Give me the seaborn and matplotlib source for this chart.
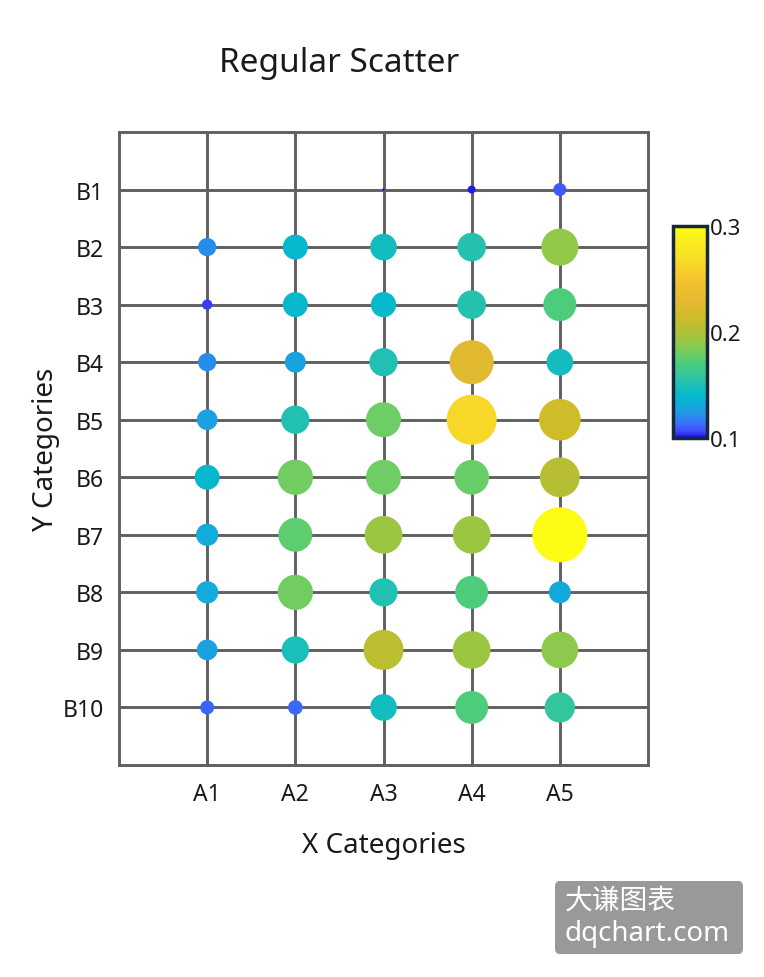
import numpy as np
import pandas as pd
import seaborn as sns
import matplotlib.pyplot as plt
from matplotlib.colors import LinearSegmentedColormap, Normalize
from matplotlib.cm import ScalarMappable
from matplotlib.patches import FancyBboxPatch

# categories
x_cats = ["A1", "A2", "A3", "A4", "A5"]
y_cats = ["B1", "B2", "B3", "B4", "B5", "B6", "B7", "B8", "B9", "B10"]

# values per row (B1..B10), columns A1..A5
row_B1 = [0.098, 0.098, 0.0984, 0.1023, 0.1093]
row_B2 = [0.1204, 0.1397, 0.1456, 0.1530, 0.1894]
row_B3 = [0.1051, 0.1397, 0.1407, 0.1530, 0.1707]
row_B4 = [0.1204, 0.1274, 0.1515, 0.2273, 0.1456]
row_B5 = [0.1266, 0.1515, 0.1798, 0.2650, 0.2141]
row_B6 = [0.1397, 0.1812, 0.1798, 0.1784, 0.2033]
row_B7 = [0.1312, 0.1752, 0.1929, 0.1929, 0.3000]
row_B8 = [0.1312, 0.1812, 0.1515, 0.1707, 0.1303]
row_B9 = [0.1266, 0.1478, 0.2048, 0.1929, 0.1879]
row_B10 = [0.1111, 0.1124, 0.1456, 0.1707, 0.1593]

rows = [row_B1, row_B2, row_B3, row_B4, row_B5,
        row_B6, row_B7, row_B8, row_B9, row_B10]

# long-form table for seaborn
df = pd.DataFrame(
    [(xc, yc, v) for yc, r in zip(y_cats, rows) for xc, v in zip(x_cats, r)],
    columns=["X", "Y", "value"],
)

# colour map
stops = [
    (0.00, (15, 15, 225)), (0.03, (65, 75, 250)), (0.07, (55, 115, 250)),
    (0.10, (40, 140, 235)), (0.15, (20, 170, 220)), (0.20, (5, 185, 205)),
    (0.27, (40, 195, 170)), (0.35, (75, 205, 125)), (0.40, (110, 205, 100)),
    (0.45, (150, 200, 70)), (0.52, (185, 190, 50)), (0.58, (210, 188, 40)),
    (0.65, (230, 185, 50)), (0.75, (245, 195, 45)), (0.85, (247, 222, 38)),
    (1.00, (252, 252, 20)),
]
cmap = LinearSegmentedColormap.from_list(
    "bubble", [(t, tuple(c / 255 for c in rgb)) for t, rgb in stops])

sns.set_style("white")
plt.rcParams["font.family"] = ["Noto Sans", "Noto Sans CJK SC", "DejaVu Sans"]

W, H = 764, 978
fig = plt.figure(figsize=(W / 100, H / 100), dpi=100)
ax = fig.add_axes([119 / W, 1 - 766 / H, (648 - 119) / W, (766 - 133) / H])

grid_col = "#606060"
text_col = "#1a1a1a"
sns.scatterplot(data=df, x="X", y="Y", hue="value", size="value",
                palette=cmap, hue_norm=(0.1, 0.3),
                sizes=(0, 1568), size_norm=(0.098, 0.3),
                linewidth=0, legend=False, ax=ax, zorder=3)

ax.set_xlim(-1, 5)
ax.set_ylim(10, -1)
ax.grid(True, color=grid_col, lw=2.1)
ax.set_axisbelow(True)
for sp in ax.spines.values():
    sp.set_color(grid_col)
    sp.set_linewidth(2.1)
ax.tick_params(length=0, labelsize=16.5, labelcolor=text_col)
ax.tick_params(axis="y", pad=11)
ax.tick_params(axis="x", pad=12)
ax.set_xlabel("X Categories", fontsize=20, labelpad=18, color=text_col)
ax.set_ylabel("Y Categories", fontsize=20, labelpad=2, color=text_col)

fig.text(339 / W, 1 - 63 / H, "Regular Scatter", fontsize=24,
         ha="center", va="center", color=text_col)

# colour bar
cax = fig.add_axes([673 / W, 1 - 439 / H, 34 / W, 212 / H])
cb = fig.colorbar(ScalarMappable(norm=Normalize(0.1, 0.3), cmap=cmap),
                  cax=cax, ticks=[0.1, 0.2, 0.3])
cb.outline.set_edgecolor("#16283a")
cb.outline.set_linewidth(2.5)
cb.ax.tick_params(length=0, labelsize=16, pad=2, labelcolor=text_col)
cb.ax.set_yticklabels(["0.1", "0.2", "0.3"])

# watermark
box = FancyBboxPatch((555 / W, 1 - 955 / H), 188 / W, 73 / H,
                     boxstyle="round,pad=0,rounding_size=0.006",
                     transform=fig.transFigure, fc="#999999", ec="none")
fig.patches.append(box)
fig.text(565 / W, 1 - 901 / H, "大谦图表", fontsize=20, color="white",
         va="center", ha="left", family=["Noto Sans CJK SC"])
fig.text(565 / W, 1 - 934 / H, "dqchart.com", fontsize=20, color="white",
         va="center", ha="left")

fig.savefig("out.png", dpi=100)
